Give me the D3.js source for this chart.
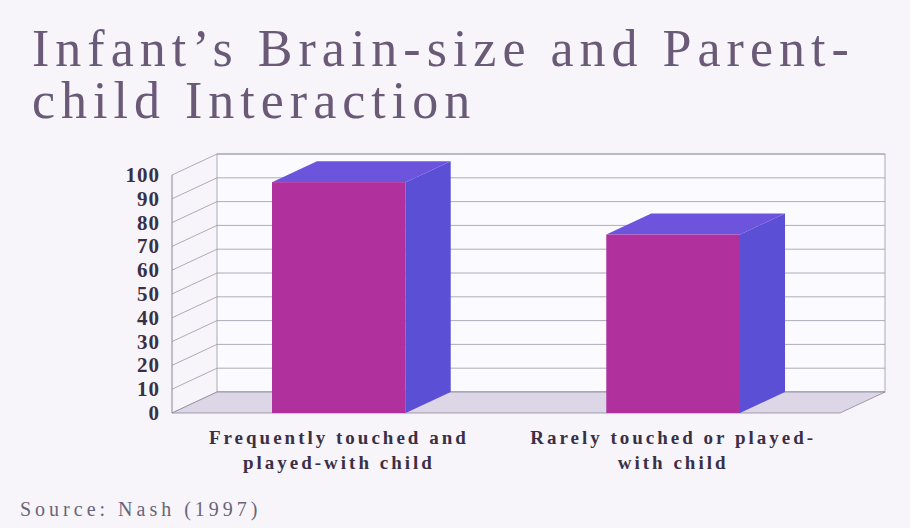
<!DOCTYPE html>
<html><head><meta charset="utf-8">
<script src="https://cdn.jsdelivr.net/npm/d3@7"></script>
<style>body{margin:0;background:#f7f5fa}</style>
</head><body><svg width="910" height="528"></svg>
<script>
const categories = [['Frequently touched and', 'played-with child'], ['Rarely touched or played-', 'with child']]
const values = [97, 75]
const ticks = [0, 10, 20, 30, 40, 50, 60, 70, 80, 90, 100]
const title = ['Infant\u2019s Brain-size and Parent-', 'child Interaction']

const svg = d3.select('svg')
const dx = 45, dy = -21
const y = d3.scaleLinear().domain([0, 100]).range([413, 175])
const x = d3.scaleBand().domain([0, 1]).range([272, 740]).paddingInner(0.6).paddingOuter(0)

svg.append('rect').attr('width', 910).attr('height', 528).attr('fill', '#f7f5fa')

svg.selectAll('.title').data(title).enter().append('text')
  .attr('x', 32).attr('y', (d, i) => 66 + i * 52)
  .attr('font-family', 'Liberation Serif').attr('font-size', 52)
  .attr('fill', '#6a5a78').attr('letter-spacing', 6).text(d => d)

// back wall + gridlines
svg.append('rect').attr('x', 172 + dx).attr('y', y(100) + dy)
  .attr('width', 668).attr('height', y(0) - y(100))
  .attr('fill', '#fbfaff').attr('stroke', '#9a98a8').attr('stroke-width', 0.8)
svg.selectAll('.grid').data(ticks).enter().append('path')
  .attr('d', d => `M172,${y(d)}L${172 + dx},${y(d) + dy}L${840 + dx},${y(d) + dy}`)
  .attr('fill', 'none').attr('stroke', '#9a98a8').attr('stroke-width', 0.8)
// floor
svg.append('path')
  .attr('d', `M172,${y(0)}L840,${y(0)}L${840 + dx},${y(0) + dy}L${172 + dx},${y(0) + dy}Z`)
  .attr('fill', '#dcd6e6').attr('stroke', '#8a8898').attr('stroke-width', 0.8)
svg.append('line').attr('x1', 172).attr('x2', 172).attr('y1', y(0)).attr('y2', y(100))
  .attr('stroke', '#8a8898')

svg.selectAll('.tick').data(ticks).enter().append('text')
  .attr('x', 160).attr('y', d => y(d) + 7).attr('text-anchor', 'end')
  .attr('font-family', 'Liberation Serif').attr('font-weight', 'bold').attr('font-size', 21)
  .attr('fill', '#3a3046').attr('letter-spacing', 1).text(d => d)

const bars = svg.selectAll('.bar').data(values).enter().append('g')
bars.append('path').attr('fill', '#5b4fd6')
  .attr('d', (d, i) => { const a = x(i) + x.bandwidth(); return `M${a},${y(d)}L${a + dx},${y(d) + dy}L${a + dx},${y(0) + dy}L${a},${y(0)}Z` })
bars.append('path').attr('fill', '#6c54dc')
  .attr('d', (d, i) => { const a = x(i), b = a + x.bandwidth(); return `M${a},${y(d)}L${b},${y(d)}L${b + dx},${y(d) + dy}L${a + dx},${y(d) + dy}Z` })
bars.append('rect').attr('fill', '#b0309e')
  .attr('x', (d, i) => x(i)).attr('y', d => y(d))
  .attr('width', x.bandwidth()).attr('height', d => y(0) - y(d))

categories.forEach((lines, i) => {
  svg.selectAll('.cl' + i).data(lines).enter().append('text')
    .attr('x', x(i) + x.bandwidth() / 2).attr('y', (d, j) => 444 + j * 25)
    .attr('text-anchor', 'middle').attr('font-family', 'Liberation Serif')
    .attr('font-weight', 'bold').attr('font-size', 19).attr('fill', '#3a3046')
    .attr('letter-spacing', 3).text(d => d)
})

svg.append('text').attr('x', 20).attr('y', 516)
  .attr('font-family', 'Liberation Serif').attr('font-size', 20)
  .attr('fill', '#6a6478').attr('letter-spacing', 4).text('Source: Nash (1997)')
</script></body></html>
